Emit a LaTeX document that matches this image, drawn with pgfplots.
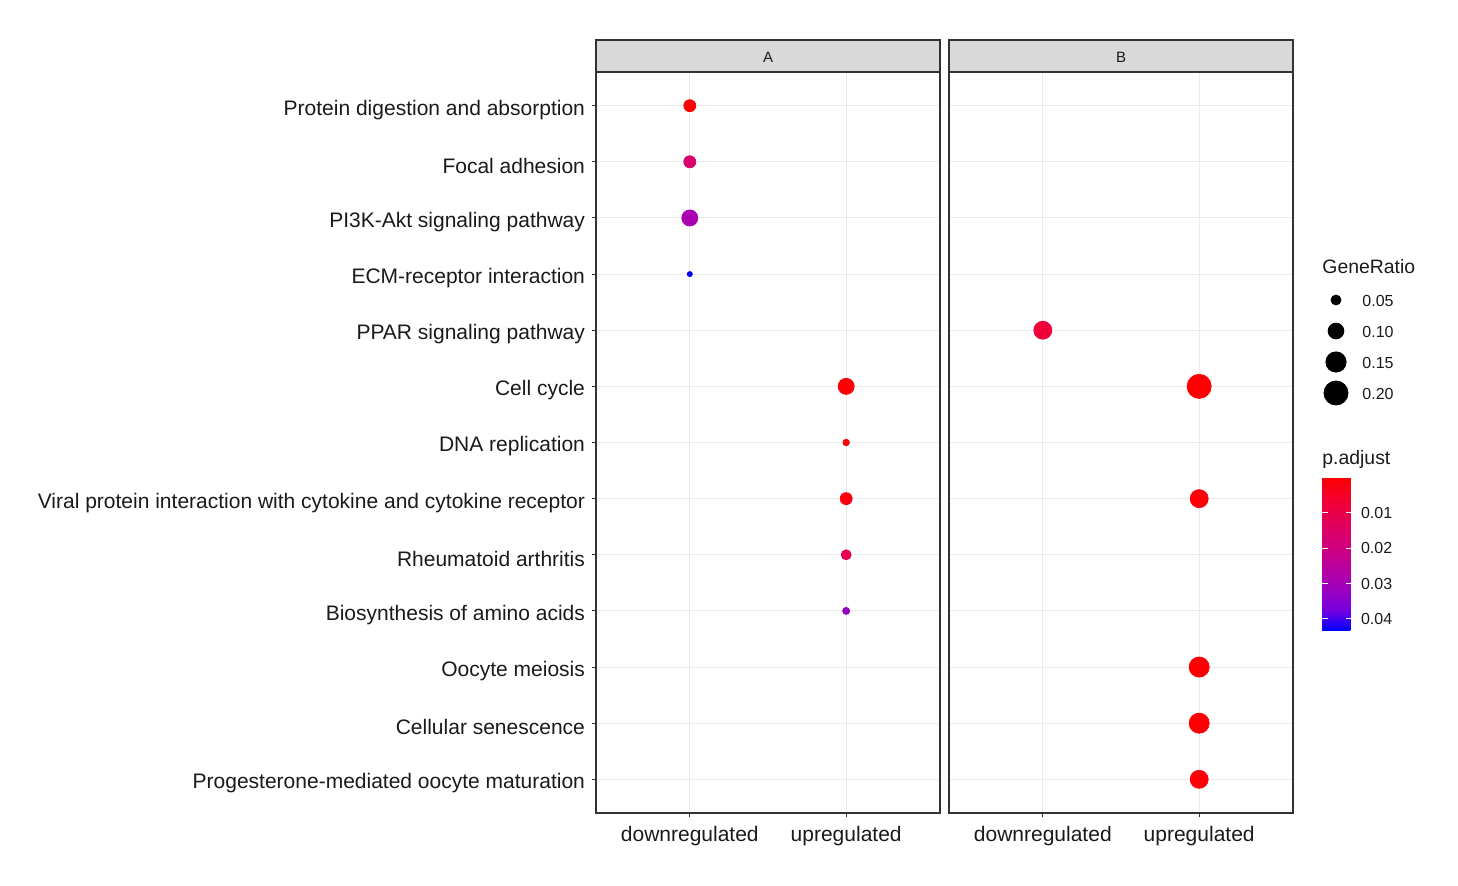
\documentclass[border=0pt]{standalone}
\usepackage{pgfplots}
\pgfplotsset{compat=1.18}
\usepackage{pgfplotstable}
\usepackage{fontspec}
\setmainfont{Liberation Sans}
\definecolor{gridc}{HTML}{EBEBEB}
\definecolor{framec}{HTML}{333333}
\definecolor{stripc}{HTML}{D9D9D9}
\definecolor{txt}{HTML}{1A1A1A}

% x: 0 = downregulated, 1 = upregulated; y: category index (top = 0)
\pgfplotstableread{
x y ratio padj
0 0 0.065 0.0008
0 1 0.065 0.0164
0 2 0.102 0.0290
0 3 0.021 0.0431
1 5 0.102 0.0005
1 6 0.028 0.0010
1 7 0.065 0.0020
1 8 0.050 0.0120
1 9 0.031 0.0330
}\dataA
\pgfplotstableread{
x y ratio padj
0 4 0.123 0.0075
1 5 0.200 0.0003
1 7 0.123 0.0010
1 10 0.147 0.0005
1 11 0.147 0.0005
1 12 0.123 0.0010
}\dataB
\pgfplotstableread{
x y ratio padj
1336 300 0.05 0
1336 331 0.10 0
1336 362 0.15 0
1336 393 0.20 0
}\dataLeg

\pgfplotsset{
  rbmap/.style={colormap={rb}{rgb=(1,0,0) rgb=(0.961,0,0.169) rgb=(0.910,0,0.310) rgb=(0.855,0,0.427) rgb=(0.788,0,0.533) rgb=(0.702,0,0.655) rgb=(0.604,0,0.765) rgb=(0.451,0,0.878) rgb=(0,0,1)}},
  facet/.style={
    scale only axis, width=172pt, height=370.5pt,
    xmin=-0.6, xmax=1.6, ymin=-0.6, ymax=12.6, y dir=reverse,
    xtick={0,1}, xticklabels={downregulated,upregulated},
    ytick={0,...,12},
    grid=major, major grid style={gridc, line width=0.5pt},
    axis line style={framec, line width=0.6pt},
    tick align=outside, xtick pos=left, ytick pos=left,
    major tick length=2pt, tick style={framec, line width=0.5pt},
    ticklabel style={font=\fontsize{10.5}{12}\selectfont, text=txt},
    yticklabel style={yshift=-2pt},
    xticklabel style={yshift=-1pt},
    point meta min=0, point meta max=0.0431,
    rbmap, clip=false,
  },
  dots/.style={
    scatter, only marks, mark=*, point meta=explicit,
    scatter/use mapped color={draw=mapped color, fill=mapped color},
    visualization depends on={(10+62.8*(sqrt(\thisrow{ratio})-0.2236))/4 \as \msize},
    scatter/@pre marker code/.append style={/tikz/mark size=\msize pt},
  },
}

\begin{document}
\begin{tikzpicture}
\useasboundingbox (0,0) rectangle (729pt,442.5pt);

\begin{axis}[facet, name=A, at={(298pt,36pt)}, anchor=south west,
  yticklabels={Protein digestion and absorption,Focal adhesion,PI3K-Akt signaling pathway,ECM-receptor interaction,PPAR signaling pathway,Cell cycle,DNA replication,Viral protein interaction with cytokine and cytokine receptor,Rheumatoid arthritis,Biosynthesis of amino acids,Oocyte meiosis,Cellular senescence,Progesterone-mediated oocyte maturation}]
\addplot[dots] table[x=x, y=y, meta=padj] {\dataA};
\end{axis}

\begin{axis}[facet, name=B, at={(474.5pt,36pt)}, anchor=south west,
  yticklabels={}, ytick style={draw=none},
  colorbar,
  colorbar style={
    scale only axis, width=15pt, height=76.5pt,
    at={(parent axis.south east)}, anchor=south west,
    xshift=5.96pt, yshift=91.5pt,
    y dir=reverse,
    ytick={0.01,0.02,0.03,0.04}, scaled y ticks=false,
    yticklabel pos=right, ytick pos=both, tick align=inside,
    major tick length=3pt, tick style={white, line width=0.5pt},
    axis line style={draw=none},
    /pgf/number format/assume math mode=true,
    /pgf/number format/fixed, /pgf/number format/precision=2,
    /pgf/number format/fixed zerofill,
    yticklabel style={font=\fontsize{8}{10}\selectfont, text=txt, xshift=1pt, yshift=0pt},
  }]
\addplot[dots] table[x=x, y=y, meta=padj] {\dataB};
\end{axis}

\foreach \n/\t in {A/A,B/B}{
  \draw[fill=stripc, draw=framec, line width=0.6pt] (\n.north west) rectangle ([yshift=16pt]\n.north east);
  \node[font=\fontsize{7.5}{9}\selectfont, text=txt] at ([yshift=7.2pt]\n.north) {\t};
}

% size legend
\begin{axis}[hide axis, scale only axis, width=75pt, height=205pt,
  at={(650pt,112.5pt)}, anchor=south west,
  xmin=1300, xmax=1450, ymin=250, ymax=660, y dir=reverse, clip=false,
  point meta min=0, point meta max=1,
  colormap={blk}{rgb=(0,0,0) rgb=(0,0,0)}]
\addplot[dots] table[x=x, y=y, meta=padj] {\dataLeg};
\node[anchor=west, font=\fontsize{9.7}{11}\selectfont, text=txt, inner sep=0pt] at (axis cs:1322,267) {GeneRatio};
\node[anchor=west, font=\fontsize{8}{10}\selectfont, text=txt, inner sep=0pt] at (axis cs:1362,301) {0.05};
\node[anchor=west, font=\fontsize{8}{10}\selectfont, text=txt, inner sep=0pt] at (axis cs:1362,332) {0.10};
\node[anchor=west, font=\fontsize{8}{10}\selectfont, text=txt, inner sep=0pt] at (axis cs:1362,363) {0.15};
\node[anchor=west, font=\fontsize{8}{10}\selectfont, text=txt, inner sep=0pt] at (axis cs:1362,394) {0.20};
\node[anchor=west, font=\fontsize{9.7}{11}\selectfont, text=txt, inner sep=0pt] at (axis cs:1322,459) {p.adjust};
\end{axis}
\end{tikzpicture}
\end{document}
